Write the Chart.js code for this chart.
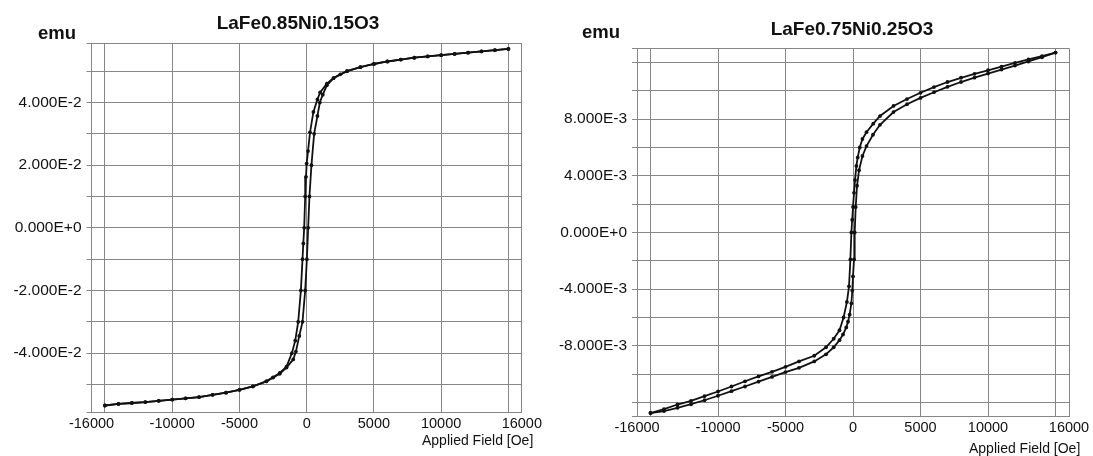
<!DOCTYPE html>
<html>
<head>
<meta charset="utf-8">
<script src="https://cdn.jsdelivr.net/npm/chart.js@4.4.1/dist/chart.umd.min.js"></script>
<style>
    body { margin: 0; background: #fff; width: 1093px; height: 456px; position: relative; overflow: hidden; font-family: "Liberation Sans", Arial, sans-serif; color: #111; }
    canvas { position: absolute; top: 0; }
    .lbl { position: absolute; white-space: nowrap; line-height: 1; }
    .title { font-weight: bold; font-size: 19px; transform: translateX(-50%); }
    .emu { font-weight: bold; font-size: 18.5px; }
    .xname { font-size: 14px; }
</style>
</head>
<body>
<canvas id="leftChart" width="545" height="456" style="left:0"></canvas>
<canvas id="rightChart" width="548" height="456" style="left:545px"></canvas>

<div class="lbl title" style="left:298px; top:13px">LaFe0.85Ni0.15O3</div>
<div class="lbl emu" style="left:38px; top:24px">emu</div>
<div class="lbl xname" style="left:422px; top:433px">Applied Field [Oe]</div>

<div class="lbl title" style="left:852px; top:19px">LaFe0.75Ni0.25O3</div>
<div class="lbl emu" style="left:582px; top:23px">emu</div>
<div class="lbl xname" style="left:969px; top:441px">Applied Field [Oe]</div>

<script>
// LaFe0.85Ni0.15O3 - field going down (15000 -> -15000)
const leftDownH = [15000, 14000, 13000, 12000, 11000, 10000, 9000, 8000, 7000, 6000,
    5000, 4000, 3000, 2000, 1500, 1000, 800, 500, 250, 100,
    0, -50, -110, -185, -250, -310, -430, -630, -850, -1100,
    -1500, -2000, -2500, -3000, -4000, -5000, -6000, -7000, -8000, -9000,
    -10000, -11000, -12000, -13000, -14000, -15000];
const leftDownM = [0.0571, 0.0567, 0.0563, 0.0559, 0.0555, 0.0551, 0.0547, 0.0543, 0.0537, 0.0531,
    0.0523, 0.0513, 0.0500, 0.0478, 0.0460, 0.0432, 0.0410, 0.0370, 0.0305, 0.0245,
    0.0205, 0.0163, 0.0100, 0.0, -0.0050, -0.0100, -0.0200, -0.0300, -0.0360, -0.0400,
    -0.0443, -0.0463, -0.0477, -0.0490, -0.0506, -0.0517, -0.0526, -0.0533, -0.0540, -0.0544,
    -0.0548, -0.0552, -0.0556, -0.0559, -0.0562, -0.0567];

// LaFe0.85Ni0.15O3 - field going up (-15000 -> 15000)
const leftUpH = [-15000, -14000, -13000, -12000, -11000, -10000, -9000, -8000, -7000, -6000,
    -5000, -4000, -3000, -2500, -2000, -1500, -1000, -800, -550, -310,
    -110, 15, 111, 207, 355, 555, 800, 977, 1200, 1500,
    2000, 2500, 3000, 4000, 5000, 6000, 7000, 8000, 9000, 10000,
    11000, 12000, 13000, 14000, 15000];
const leftUpM = [-0.0567, -0.0562, -0.0559, -0.0556, -0.0552, -0.0548, -0.0544, -0.0540, -0.0533, -0.0526,
    -0.0517, -0.0506, -0.0490, -0.0478, -0.0466, -0.0446, -0.0420, -0.0395, -0.0345, -0.0300,
    -0.0200, -0.0100, 0.0, 0.0100, 0.0200, 0.0300, 0.0357, 0.0400, 0.0425, 0.0455,
    0.0478, 0.0490, 0.0500, 0.0513, 0.0523, 0.0531, 0.0537, 0.0543, 0.0547, 0.0551,
    0.0555, 0.0559, 0.0563, 0.0567, 0.0571];

// LaFe0.75Ni0.25O3 - field going down
const rightDownH = [15000, 14000, 13000, 12000, 11000, 10000, 9000, 8000, 7000, 6000,
    5000, 4000, 3000, 2000, 1500, 1000, 700, 500, 350, 250,
    150, 75, 0, -60, -120, -195, -295, -450, -700, -1000,
    -1430, -2000, -2870, -4000, -5000, -6000, -7000, -8000, -9000, -10000,
    -11000, -12000, -13000, -14000, -15000];
const rightDownM = [0.0127, 0.01245, 0.01222, 0.01197, 0.0117, 0.01145, 0.0112, 0.01092, 0.01062, 0.01026,
    0.00986, 0.00942, 0.00893, 0.00822, 0.00768, 0.00708, 0.0066, 0.0060, 0.0053, 0.0047,
    0.0037, 0.0028, 0.0018, 0.0009, 0.0, -0.0019, -0.0038, -0.0049, -0.0060, -0.0069,
    -0.0075, -0.0081, -0.0087, -0.0091, -0.00948, -0.00983, -0.01016, -0.0105, -0.01087, -0.01122,
    -0.01155, -0.01189, -0.01214, -0.01247, -0.01274];

// LaFe0.75Ni0.25O3 - field going up
const rightUpH = [-15000, -14000, -13000, -12000, -11000, -10000, -9000, -8000, -7000, -6000,
    -5000, -4000, -2870, -2000, -1430, -1000, -740, -500, -370, -250,
    -120, -50, 0, 75, 125, 200, 300, 450, 700, 1000,
    1480, 2000, 3000, 4000, 5000, 6000, 7000, 8000, 9000, 10000,
    11000, 12000, 13000, 14000, 15000];
const rightUpM = [-0.01274, -0.0126, -0.01237, -0.01212, -0.01184, -0.01152, -0.0112, -0.01087, -0.01053, -0.01019,
    -0.00985, -0.00955, -0.0091, -0.0086, -0.0081, -0.0076, -0.0072, -0.0067, -0.0063, -0.0058,
    -0.0050, -0.0041, -0.0031, -0.0019, 0.0, 0.0018, 0.0033, 0.0044, 0.0054, 0.0061,
    0.0069, 0.0076, 0.0085, 0.00905, 0.0095, 0.0099, 0.01028, 0.01062, 0.01093, 0.01122,
    0.0115, 0.01178, 0.01207, 0.01237, 0.0127];

// axis ticks (grid lines) and which of them get a label
const xTicks = [-16000, -15000, -10000, -5000, 0, 5000, 10000, 15000, 16000];
const xLabels = [-16000, -10000, -5000, 0, 5000, 10000, 16000];

const leftYTicks = [-0.059, -0.05, -0.04, -0.03, -0.02, -0.01, 0, 0.01, 0.02, 0.03, 0.04, 0.05, 0.059];
const leftYLabels = [-0.04, -0.02, 0, 0.02, 0.04];

const rightYTicks = [-0.013, -0.012, -0.010, -0.008, -0.006, -0.004, -0.002, 0,
    0.002, 0.004, 0.006, 0.008, 0.010, 0.012, 0.013];
const rightYLabels = [-0.008, -0.004, 0, 0.004, 0.008];

const gridColor = "#868686";
const inkColor = "#111";

function toPoints(hs, ms) {
    return hs.map((h, i) => ({ x: h, y: ms[i] }));
}

function hasLabel(list, v) {
    return list.some((l) => Math.abs(l - v) < 1e-9);
}

function loopDataset(hs, ms) {
    return {
        data: toPoints(hs, ms),
        showLine: true,
        borderColor: inkColor,
        borderWidth: 1.8,
        pointRadius: 1.9,
        pointBackgroundColor: inkColor,
        pointBorderWidth: 0,
    };
}

// one hysteresis plot; box = plot area inside the canvas
function makeLoop(canvasId, down, up, yTicks, yLabels, yMax, box, canvasW) {
    new Chart(document.getElementById(canvasId), {
        type: "scatter",
        data: {
            datasets: [loopDataset(down[0], down[1]), loopDataset(up[0], up[1])],
        },
        options: {
            responsive: false,
            animation: false,
            layout: {
                padding: { left: 0, top: box.top, right: canvasW - box.right, bottom: 0 },
            },
            plugins: { legend: { display: false }, tooltip: { enabled: false } },
            scales: {
                x: {
                    type: "linear",
                    min: -16000,
                    max: 16000,
                    afterBuildTicks: (axis) => { axis.ticks = xTicks.map((v) => ({ value: v })); },
                    afterFit: (axis) => { axis.height = 456 - box.bottom; },
                    grid: { color: gridColor, drawTicks: false },
                    border: { color: gridColor },
                    ticks: {
                        autoSkip: false,
                        maxRotation: 0,
                        padding: 3,
                        color: inkColor,
                        font: { family: "Liberation Sans", size: 14.5 },
                        callback: (v) => (hasLabel(xLabels, v) ? String(v) : ""),
                    },
                },
                y: {
                    type: "linear",
                    min: -yMax,
                    max: yMax,
                    afterBuildTicks: (axis) => { axis.ticks = yTicks.map((v) => ({ value: v })); },
                    afterFit: (axis) => { axis.width = box.left; },
                    grid: { color: gridColor, tickLength: 5 },
                    border: { color: gridColor },
                    ticks: {
                        autoSkip: false,
                        padding: 5,
                        color: inkColor,
                        font: { family: "Liberation Sans", size: 15.5 },
                        callback: (v) => (hasLabel(yLabels, v) ? v.toExponential(3).replace("e", "E") : ""),
                    },
                },
            },
        },
    });
}

makeLoop("leftChart", [leftDownH, leftDownM], [leftUpH, leftUpM], leftYTicks, leftYLabels, 0.059,
    { left: 91.5, right: 523.3, top: 43, bottom: 412.7 }, 545);

makeLoop("rightChart", [rightDownH, rightDownM], [rightUpH, rightUpM], rightYTicks, rightYLabels, 0.013,
    { left: 92, right: 524, top: 48.3, bottom: 416.7 }, 548);
</script>
</body>
</html>
